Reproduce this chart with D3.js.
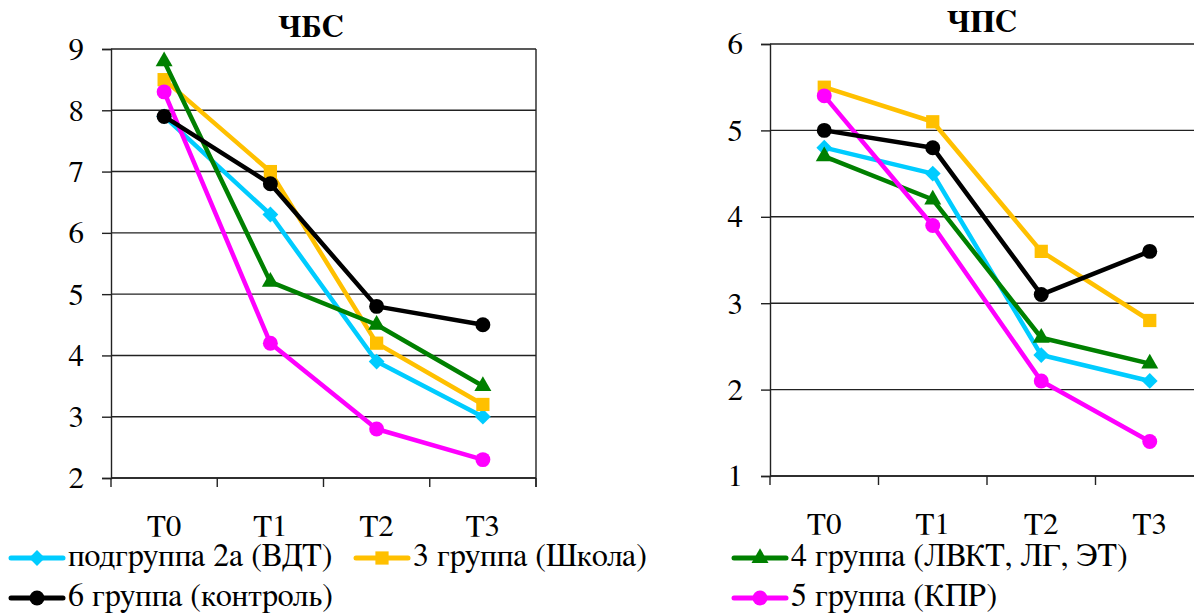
<!DOCTYPE html>
<html>
<head>
<meta charset="utf-8">
<script src="https://cdn.jsdelivr.net/npm/d3@7"></script>
<style>
  html, body { margin: 0; padding: 0; background: #fff; }
  svg { display: block; }
</style>
</head>
<body>
<div id="chart"></div>
<script>
// ── Data ────────────────────────────────────────────────────────────────
const categories = ["T0", "T1", "T2", "T3"];

const seriesNames = [
    "подгруппа 2а (ВДТ)",
    "3 группа (Школа)",
    "4 группа (ЛВКТ, ЛГ, ЭТ)",
    "5 группа (КПР)",
    "6 группа (контроль)"
];

// ЧБС
const chbsGroup2a = [7.9, 6.3, 3.9, 3.0];
const chbsGroup3  = [8.5, 7.0, 4.2, 3.2];
const chbsGroup4  = [8.8, 5.2, 4.5, 3.5];
const chbsGroup5  = [8.3, 4.2, 2.8, 2.3];
const chbsGroup6  = [7.9, 6.8, 4.8, 4.5];

// ЧПС
const chpsGroup2a = [4.8, 4.5, 2.4, 2.1];
const chpsGroup3  = [5.5, 5.1, 3.6, 2.8];
const chpsGroup4  = [4.7, 4.2, 2.6, 2.3];
const chpsGroup5  = [5.4, 3.9, 2.1, 1.4];
const chpsGroup6  = [5.0, 4.8, 3.1, 3.6];

const chbsTicks = [2, 3, 4, 5, 6, 7, 8, 9];
const chpsTicks = [1, 2, 3, 4, 5, 6];

// ── Styles ──────────────────────────────────────────────────────────────
// Liberation Serif here has no Cyrillic, FreeSerif does
const FONT = "FreeSerif, 'Liberation Serif', 'Noto Serif CJK SC', serif";
const FS = "31px";
const FS_LEGEND = "32px";

// Excel-like diamond: square turned by 45°, same width and height
const symbolRhomb = {
    draw(context, size) {
        const r = Math.sqrt(size / 2);
        context.moveTo(0, -r);
        context.lineTo(r, 0);
        context.lineTo(0, r);
        context.lineTo(-r, 0);
        context.closePath();
    }
};

const COLORS  = ["#00ccff", "#ffc000", "#008000", "#ff00ff", "#000000"];
const SYMBOLS = [symbolRhomb, d3.symbolSquare, d3.symbolTriangle, d3.symbolCircle, d3.symbolCircle];
const SYM_SIZE = [125, 175, 125, 175, 175];

const W = 1194, H = 616;
const svg = d3.select("#chart").append("svg")
    .attr("width", W)
    .attr("height", H)
    .style("font-family", FONT);

function drawChart(opts) {
    const { left, top, width, height, title, titleX, ticks, series, labelGap } = opts;

    const x = d3.scaleBand().domain(categories).range([left, left + width]).padding(0);
    const y = d3.scaleLinear().domain(d3.extent(ticks)).range([top + height, top]);

    const g = svg.append("g");

    // title
    g.append("text")
        .attr("x", titleX)
        .attr("y", top - 12)
        .attr("text-anchor", "middle")
        .style("font-family", FONT)
        .style("font-size", FS)
        .style("font-weight", "700")
        .text(title);

    // gridlines
    g.append("g")
        .selectAll("line")
        .data(ticks)
        .join("line")
        .attr("x1", left)
        .attr("x2", left + width)
        .attr("y1", d => y(d))
        .attr("y2", d => y(d))
        .attr("stroke", "#222")
        .attr("stroke-width", 1.4);

    // right border
    g.append("line")
        .attr("x1", left + width).attr("x2", left + width)
        .attr("y1", top).attr("y2", top + height + 9)
        .attr("stroke", "#222").attr("stroke-width", 1.4);

    // y axis
    const yAxis = g.append("g")
        .attr("transform", `translate(${left},0)`)
        .call(d3.axisLeft(y).tickValues(ticks).tickSize(9).tickPadding(labelGap).tickFormat(d3.format("d")));
    yAxis.select(".domain").attr("stroke", "#222").attr("stroke-width", 1.4);
    yAxis.selectAll(".tick line").attr("stroke", "#222").attr("stroke-width", 1.4);
    yAxis.selectAll("text")
        .style("font-family", FONT)
        .style("font-size", FS)
        .attr("fill", "#000");

    // x axis: ticks on band edges, labels at band centres
    const edges = categories.map(c => x(c)).concat([left + width]);
    g.append("g")
        .selectAll("line")
        .data(edges)
        .join("line")
        .attr("x1", d => d).attr("x2", d => d)
        .attr("y1", top + height).attr("y2", top + height + 9)
        .attr("stroke", "#222").attr("stroke-width", 1.4);
    g.append("line")
        .attr("x1", left).attr("x2", left + width)
        .attr("y1", top + height).attr("y2", top + height)
        .attr("stroke", "#222").attr("stroke-width", 1.6);

    g.append("g")
        .selectAll("text")
        .data(categories)
        .join("text")
        .attr("x", d => x(d) + x.bandwidth() / 2)
        .attr("y", top + height + 58)
        .attr("text-anchor", "middle")
        .style("font-family", FONT)
        .style("font-size", FS)
        .text(d => d);

    // series
    const line = d3.line()
        .x((d, i) => x(categories[i]) + x.bandwidth() / 2)
        .y(d => y(d));

    series.forEach((vals, si) => {
        g.append("path")
            .datum(vals)
            .attr("d", line)
            .attr("fill", "none")
            .attr("stroke", COLORS[si])
            .attr("stroke-width", 4.5)
            .attr("stroke-linejoin", "round");
        g.append("g")
            .selectAll("path")
            .data(vals)
            .join("path")
            .attr("transform", (d, i) => `translate(${x(categories[i]) + x.bandwidth() / 2},${y(d)})`)
            .attr("d", d3.symbol().type(SYMBOLS[si]).size(SYM_SIZE[si]))
            .attr("fill", COLORS[si]);
    });
}

drawChart({
    left: 111, top: 49, width: 425, height: 429,
    title: "ЧБС", titleX: 311,
    ticks: chbsTicks, labelGap: 18,
    series: [chbsGroup2a, chbsGroup3, chbsGroup4, chbsGroup5, chbsGroup6]
});

drawChart({
    left: 770, top: 44, width: 434, height: 432,
    title: "ЧПС", titleX: 982,
    ticks: chpsTicks, labelGap: 18,
    series: [chpsGroup2a, chpsGroup3, chpsGroup4, chpsGroup5, chpsGroup6]
});

// ── Legend ──────────────────────────────────────────────────────────────
const legendItems = [
    { s: 0, x: 11,  y: 558 },
    { s: 1, x: 356, y: 558 },
    { s: 4, x: 11,  y: 598 },
    { s: 2, x: 734, y: 558 },
    { s: 3, x: 734, y: 598 }
];

const legend = svg.append("g");
legendItems.forEach(it => {
    const row = legend.append("g").attr("transform", `translate(${it.x},${it.y})`);
    row.append("line")
        .attr("x1", 0).attr("x2", 52)
        .attr("stroke", COLORS[it.s])
        .attr("stroke-width", 5)
        .attr("stroke-linecap", "round");
    row.append("path")
        .attr("transform", "translate(26,0)")
        .attr("d", d3.symbol().type(SYMBOLS[it.s]).size(SYM_SIZE[it.s]))
        .attr("fill", COLORS[it.s]);
    row.append("text")
        .attr("x", 57)
        .attr("y", 8)
        .style("font-family", FONT)
        .style("font-size", FS_LEGEND)
        .text(seriesNames[it.s]);
});
</script>
</body>
</html>
